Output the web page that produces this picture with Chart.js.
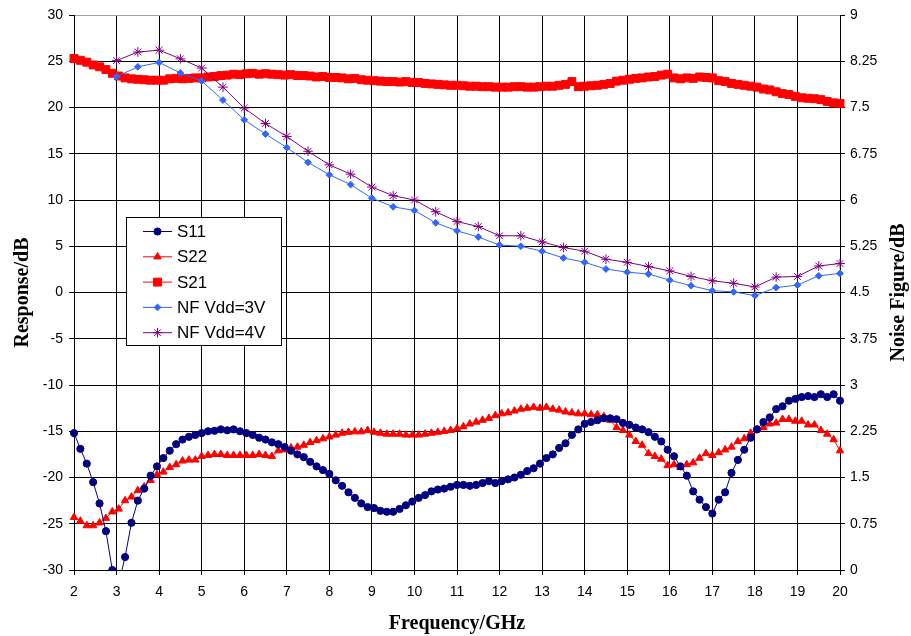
<!DOCTYPE html>
<html>
<head>
<meta charset="utf-8">
<title>Response and Noise Figure vs Frequency</title>
<script src="https://cdn.jsdelivr.net/npm/chart.js@4.4.1/dist/chart.umd.min.js"></script>
<style>
  html, body { margin: 0; padding: 0; background: #fff; }
  #wrap { width: 911px; height: 636px; }
  canvas { background: #fff; }
</style>
</head>
<body>
<div id="wrap"><canvas id="chart" width="911" height="636"></canvas></div>
<script>
// sweep grid of the network analyser: 2 .. 20 GHz, 121 points
const sweepGHz = Array.from({ length: 121 }, (_, i) => +(2 + i * 0.15).toFixed(2));

// noise figure was measured every 0.5 GHz
const nfGHz = [3, 3.5, 4, 4.5, 5, 5.5, 6, 6.5, 7, 7.5, 8, 8.5, 9, 9.5, 10, 10.5, 11, 11.5,
  12, 12.5, 13, 13.5, 14, 14.5, 15, 15.5, 16, 16.5, 17, 17.5, 18, 18.5, 19, 19.5, 20];

// S-parameters, dB (left axis)
const s11 = [
  -15.2, -16.9, -18.5, -20.5, -22.8, -25.8, -30.0, -31.5, -28.6, -24.9,
  -22.5, -21.2, -19.8, -18.8, -17.9, -17.1, -16.4, -15.9, -15.6, -15.4,
  -15.2, -15.0, -14.95, -14.8, -14.9, -14.8, -15.0, -15.2, -15.4, -15.7,
  -15.9, -16.2, -16.4, -16.7, -17.1, -17.5, -17.8, -18.3, -18.8, -19.2,
  -19.6, -20.3, -20.9, -21.6, -22.2, -22.8, -23.2, -23.3, -23.6, -23.7,
  -23.7, -23.4, -23.0, -22.6, -22.2, -21.9, -21.5, -21.3, -21.2, -21.0,
  -20.8, -20.8, -20.9, -20.8, -20.6, -20.4, -20.6, -20.4, -20.2, -20.0,
  -19.7, -19.3, -19.0, -18.5, -17.9, -17.5, -16.8, -16.3, -15.4, -14.8,
  -14.2, -14.0, -13.8, -13.6, -13.6, -13.7, -14.1, -14.3, -14.6, -14.8,
  -15.1, -15.6, -16.1, -17.0, -17.7, -18.8, -19.8, -21.5, -22.4, -23.2,
  -23.9, -22.4, -21.6, -19.5, -18.1, -17.0, -15.7, -14.8, -14.0, -13.5,
  -12.6, -12.3, -11.7, -11.5, -11.3, -11.2, -11.3, -11.0, -11.3, -11.0,
  -11.7
];
const s22 = [
  -24.3, -24.7, -25.2, -25.2, -24.9, -24.4, -23.7, -23.4, -22.5, -22.1,
  -21.4, -21.0, -20.3, -19.7, -19.4, -18.9, -18.6, -18.2, -18.1, -18.1,
  -17.7, -17.6, -17.5, -17.5, -17.6, -17.6, -17.6, -17.6, -17.6, -17.5,
  -17.6, -17.7, -17.1, -17.0, -16.8, -16.7, -16.5, -16.2, -16.0, -15.8,
  -15.6, -15.4, -15.2, -15.1, -15.05, -15.05, -14.9, -15.1, -15.2, -15.3,
  -15.3, -15.3, -15.4, -15.4, -15.4, -15.3, -15.2, -15.1, -15.0, -14.9,
  -14.7, -14.5, -14.2, -14.0, -13.8, -13.6, -13.3, -13.1, -13.0, -12.8,
  -12.6, -12.5, -12.4, -12.5, -12.4, -12.6, -12.7, -12.9, -13.0, -13.1,
  -13.1, -13.2, -13.2, -13.4, -13.8, -14.6, -14.9, -15.4, -16.1, -16.5,
  -17.4, -17.7, -18.0, -18.7, -18.6, -18.9, -18.6, -18.4, -17.9, -17.4,
  -17.6, -17.3, -17.0, -16.7, -16.1, -15.8, -15.2, -14.8, -14.6, -14.2,
  -14.1, -13.7, -13.7, -13.9, -13.9, -14.3, -14.3, -14.9, -15.3, -15.9,
  -17.1
];
const s21 = [
  25.3, 25.1, 24.9, 24.6, 24.4, 24.1, 23.7, 23.4, 23.2, 23.1,
  23.05, 23.0, 22.95, 22.95, 22.95, 23.1, 23.15, 23.1, 23.15, 23.2,
  23.2, 23.3, 23.35, 23.45, 23.5, 23.6, 23.55, 23.65, 23.7, 23.6,
  23.65, 23.6, 23.55, 23.5, 23.55, 23.45, 23.45, 23.4, 23.3, 23.35,
  23.25, 23.25, 23.2, 23.1, 23.15, 23.0, 22.95, 22.9, 22.85, 22.8,
  22.8, 22.75, 22.8, 22.7, 22.7, 22.6, 22.55, 22.5, 22.45, 22.4,
  22.4, 22.35, 22.3, 22.3, 22.25, 22.25, 22.2, 22.2, 22.2, 22.25,
  22.25, 22.2, 22.2, 22.25, 22.3, 22.3, 22.4, 22.5, 22.8, 22.25,
  22.3, 22.35, 22.4, 22.5, 22.6, 22.85, 22.95, 23.05, 23.15, 23.2,
  23.3, 23.35, 23.5, 23.6, 23.2, 23.1, 23.2, 23.15, 23.3, 23.25,
  23.2, 22.9, 22.8, 22.6, 22.5, 22.4, 22.3, 22.2, 22.0, 21.9,
  21.7, 21.5, 21.4, 21.2, 21.05, 21.0, 20.95, 20.85, 20.65, 20.5,
  20.45
];

// noise figure, dB (right axis)
const nf3V = [8.00, 8.16, 8.23, 8.06, 7.93, 7.62, 7.30, 7.07, 6.85, 6.61,
  6.41, 6.25, 6.03, 5.89, 5.83, 5.63, 5.50, 5.40, 5.27, 5.25,
  5.17, 5.06, 4.99, 4.88, 4.83, 4.80, 4.70, 4.61, 4.53, 4.51,
  4.45, 4.58, 4.62, 4.77, 4.81];
const nf4V = [8.26, 8.40, 8.43, 8.29, 8.14, 7.83, 7.49, 7.24, 7.03, 6.79,
  6.57, 6.42, 6.21, 6.07, 6.00, 5.81, 5.65, 5.57, 5.42, 5.42,
  5.32, 5.23, 5.17, 5.04, 4.99, 4.92, 4.85, 4.76, 4.69, 4.65,
  4.59, 4.75, 4.76, 4.93, 4.97];

const seriesNames = ['S11', 'S22', 'S21', 'NF Vdd=3V', 'NF Vdd=4V'];
const xTitle = 'Frequency/GHz';
const yTitle = 'Response/dB';
const y2Title = 'Noise Figure/dB';

const tickFont = { family: '"Liberation Sans", Arial, sans-serif', size: 14 };
const titleFont = { family: '"Liberation Serif", "Times New Roman", serif', size: 20, weight: 'bold' };

function series(label, xs, ys, color, style, radius, axis, order) {
  return {
    label: label,
    data: xs.map((x, i) => ({ x: x, y: ys[i] })),
    yAxisID: axis,
    order: order,
    borderColor: color,
    backgroundColor: color,
    pointBackgroundColor: color,
    pointBorderColor: color,
    borderWidth: 1,
    pointStyle: style,
    pointRadius: radius,
    pointHoverRadius: radius,
    pointBorderWidth: 1,
    tension: 0,
    fill: false,
    clip: { left: 6, right: 6, top: 6, bottom: 1 }
  };
}

// legend box inside the plot + right axis title reading upwards
const extras = {
  id: 'extras',
  afterDraw(chart) {
    const ctx = chart.ctx;
    const a = chart.chartArea;
    const bx = a.left + 52, by = a.top + 202, bw = 155, bh = 128;
    ctx.save();
    ctx.fillStyle = '#fff';
    ctx.fillRect(bx, by, bw, bh);
    ctx.strokeStyle = '#000';
    ctx.lineWidth = 1;
    ctx.strokeRect(bx + 0.5, by + 0.5, bw, bh);
    ctx.font = '17px "Liberation Sans", Arial, sans-serif';
    ctx.textBaseline = 'middle';
    ctx.textAlign = 'left';
    chart.data.datasets.forEach((ds, i) => {
      const cy = by + 14.5 + i * 25.3;
      ctx.strokeStyle = ds.borderColor;
      ctx.lineWidth = ds.borderWidth;
      ctx.beginPath();
      ctx.moveTo(bx + 17, cy);
      ctx.lineTo(bx + 46, cy);
      ctx.stroke();
      ctx.fillStyle = ds.pointBackgroundColor;
      ctx.strokeStyle = ds.pointBorderColor;
      ctx.lineWidth = ds.pointBorderWidth;
      Chart.helpers.drawPoint(ctx, { pointStyle: ds.pointStyle, radius: ds.pointRadius, borderWidth: ds.pointBorderWidth, rotation: 0 }, bx + 31.5, cy);
      ctx.fillStyle = '#000';
      ctx.fillText(ds.label, bx + 51, cy + 1);
    });
    // right title
    ctx.translate(chart.width - 12, (a.top + a.bottom) / 2);
    ctx.rotate(-Math.PI / 2);
    ctx.font = 'bold 20px "Liberation Serif", "Times New Roman", serif';
    ctx.textAlign = 'center';
    ctx.fillStyle = '#000';
    ctx.fillText(y2Title, 0, 0);
    ctx.restore();
  }
};

new Chart(document.getElementById('chart'), {
  type: 'line',
  data: {
    datasets: [
      series(seriesNames[0], sweepGHz, s11, '#000080', 'circle', 3.6, 'y', 2),
      series(seriesNames[1], sweepGHz, s22, '#ff0000', 'triangle', 4.3, 'y', 3),
      series(seriesNames[2], sweepGHz, s21, '#ff0000', 'rect', 5.6, 'y', 4),
      series(seriesNames[3], nfGHz, nf3V, '#3366ff', 'rectRot', 3.4, 'y1', 1),
      series(seriesNames[4], nfGHz, nf4V, '#800080', 'star', 4.8, 'y1', 0)
    ]
  },
  options: {
    responsive: false,
    animation: false,
    devicePixelRatio: 1,
    layout: { padding: { top: 15, left: 0, right: 0, bottom: 0 } },
    plugins: {
      legend: { display: false },
      tooltip: { enabled: false }
    },
    scales: {
      x: {
        type: 'linear',
        min: 2,
        max: 20,
        afterFit: s => { s.height = 66; },
        ticks: { stepSize: 1, color: '#000', font: tickFont, padding: 9, maxRotation: 0 },
        grid: { color: '#000', tickColor: '#000', tickLength: 5 },
        border: { color: '#000' },
        title: { display: true, text: xTitle, color: '#000', font: titleFont, padding: { top: 0, bottom: 0 } }
      },
      y: {
        position: 'left',
        min: -30,
        max: 30,
        afterFit: s => { s.width = 74; },
        ticks: { stepSize: 5, color: '#000', font: tickFont, padding: 6 },
        grid: {
          color: c => (c.tick && c.tick.value === 30 ? '#a0a0a0' : '#000'),
          tickColor: '#000',
          tickLength: 5
        },
        border: { color: '#000' },
        title: { display: true, text: yTitle, color: '#000', font: titleFont, padding: { top: 11, bottom: 0 } }
      },
      y1: {
        position: 'right',
        min: 0,
        max: 9,
        afterFit: s => { s.width = 71; },
        ticks: { stepSize: 0.75, color: '#000', font: tickFont, padding: 5, callback: v => String(+v.toFixed(2)) },
        grid: { drawOnChartArea: false, color: '#000', tickLength: 5 },
        border: { color: '#000' }
      }
    }
  },
  plugins: [extras]
});
</script>
</body>
</html>
